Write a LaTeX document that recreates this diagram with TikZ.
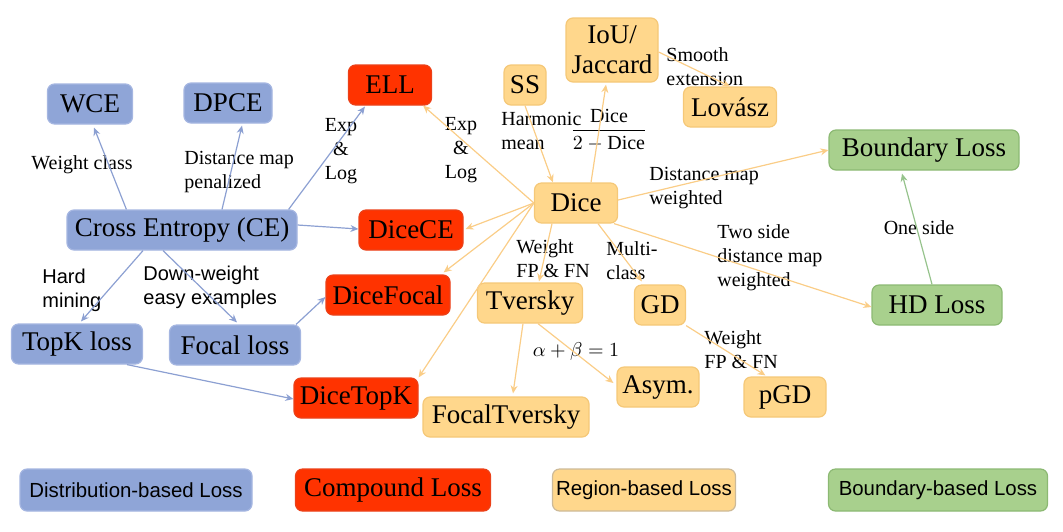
\documentclass[tikz,border=0pt]{standalone}
\usepackage{fontspec}
\setmainfont{Liberation Serif}
\setsansfont{Liberation Sans}
\usepackage{amsmath}
\usepackage{tikz}
\usetikzlibrary{positioning,arrows.meta}

\definecolor{distfill}{RGB}{143,165,215}
\definecolor{distline}{RGB}{165,182,225}
\definecolor{distarr}{RGB}{140,160,210}
\definecolor{compfill}{RGB}{255,51,0}
\definecolor{compline}{RGB}{235,65,25}
\definecolor{regfill}{RGB}{255,215,140}
\definecolor{regline}{RGB}{245,200,120}
\definecolor{regarr}{RGB}{250,205,135}
\definecolor{bndfill}{RGB}{168,208,141}
\definecolor{bndline}{RGB}{140,185,115}
\definecolor{bndarr}{RGB}{150,195,140}

\begin{document}
\begin{tikzpicture}[x=0.5pt,y=-0.5pt,
    box/.style={rounded corners=3.5pt, inner sep=1pt, minimum height=20pt,
        line width=0.6pt, font=\fontsize{13.5}{15}\selectfont},
    dist/.style={box, fill=distfill, draw=distline},
    comp/.style={box, fill=compfill, draw=compline},
    region/.style={box, fill=regfill, draw=regline},
    bnd/.style={box, fill=bndfill, draw=bndline},
    lbl/.style={inner sep=0pt, align=left, font=\fontsize{10}{12}\selectfont},
    sflbl/.style={inner sep=0pt, align=left, font=\sffamily\fontsize{10}{12}\selectfont},
    distarrow/.style={-{Stealth[length=4pt,width=3.5pt]}, draw=distarr, line width=0.6pt},
    regarrow/.style={-{Stealth[length=4pt,width=3.5pt]}, draw=regarr, line width=0.6pt},
    bndarrow/.style={-{Stealth[length=4pt,width=3.5pt]}, draw=bndarr, line width=0.6pt}]
\useasboundingbox (0,0) rectangle (1063,531);

% Distribution-based
\node[dist, minimum width=42.5pt] (wce) at (90,104) {WCE};
\node[dist, minimum width=44pt] (dpce) at (228,103) {DPCE};
\node[dist, minimum width=115pt] (ce) at (182,230) {Cross Entropy (CE)};
\node[dist, minimum width=65.5pt] (topk) at (77,344) {TopK loss};
\node[dist, minimum width=65.5pt] (focal) at (235,345) {Focal loss};

% Compound
\node[comp, minimum width=41.5pt] (ell) at (390,85) {ELL};
\node[comp, minimum width=52pt] (dicece) at (411,230) {DiceCE};
\node[comp, minimum width=62pt] (dicefocal) at (388,295) {DiceFocal};
\node[comp, minimum width=62pt] (dicetopk) at (356,398) {DiceTopK};

% Region-based
\node[region, minimum width=21pt] (ss) at (525,85) {SS};
\node[region, minimum width=46pt, minimum height=32pt, align=center] (iou) at (612,50) {IoU/\\Jaccard};
\node[region, minimum width=46.5pt] (lovasz) at (730,107) {Lovász};
\node[region, minimum width=41.5pt] (dice) at (576,203) {Dice};
\node[region, minimum width=52.5pt] (tversky) at (530,303) {Tversky};
\node[region, minimum width=83pt] (focaltversky) at (506,417) {FocalTversky};
\node[region, minimum width=25.5pt] (gd) at (660,305) {GD};
\node[region, minimum width=41pt] (asym) at (658,387) {Asym.};
\node[region, minimum width=41pt] (pgd) at (785,397) {pGD};

% Boundary-based
\node[bnd, minimum width=95pt] (boundary) at (924,150) {Boundary Loss};
\node[bnd, minimum width=65pt] (hd) at (937,305) {HD Loss};

% Edge labels
\node[lbl, anchor=center] (lwce) at (82,165) {Weight class};
\node[lbl, anchor=west] (ldpce) at (184,172) {Distance map\\penalized};
\node[lbl, align=center] (lell1) at (341,151) {Exp\\\&\\Log};
\node[lbl, align=center] (lell2) at (461,150) {Exp\\\&\\Log};
\node[sflbl, anchor=west] (ltopk) at (42,290) {Hard\\mining};
\node[sflbl, anchor=west] (lfocal) at (143,287) {Down-weight\\easy examples};
\node[lbl, anchor=west] (lss) at (501,131) {Harmonic\\mean};
\node[lbl] (liou) at (609,130) {$\displaystyle\frac{\text{Dice}}{2-\text{Dice}}$};
\node[lbl, anchor=west] (llovasz) at (666,67) {Smooth\\extension};
\node[lbl, anchor=west] (lbnd) at (649,188) {Distance map\\weighted};
\node[lbl, anchor=west] (lhd) at (717,258) {Two side\\distance map\\weighted};
\node[lbl, anchor=west] (ltversky) at (516,259) {Weight\\FP \& FN};
\node[lbl, anchor=west] (lgd) at (606,261) {Multi-\\class};
\node[lbl] (lasym) at (576,351) {$\alpha+\beta=1$};
\node[lbl, anchor=west] (lpgd) at (704,350) {Weight\\FP \& FN};
\node[lbl] (lone) at (919,228) {One side};

% CE arrows
\draw[distarrow] ([shift={(60,0)}]ce.north west) -- ([shift={(4,3)}]wce.south);
\draw[distarrow] ([shift={(40,0)}]ce.north) -- ([shift={(14,2)}]dpce.south);
\draw[distarrow] ([shift={(-9,0)}]ce.north east) -- ([shift={(17,1)}]ell.south west);
\draw[distarrow] ([shift={(0,-5)}]ce.east) -- ([shift={(0,-1)}]dicece.west);
\draw[distarrow] ([shift={(-39,0)}]ce.south) -- ([shift={(4,-2)}]topk.north);
\draw[distarrow] ([shift={(-19,0)}]ce.south) -- ([shift={(2,-2)}]focal.north);
\draw[distarrow] ([shift={(-5,0)}]focal.north east) -- ([shift={(0,2)}]dicefocal.west);
\draw[distarrow] ([shift={(50,0)}]topk.south) -- ([shift={(0,1)}]dicetopk.west);

% Dice arrows
\draw[regarrow] (dice.west) -- ([shift={(-9,0)}]ell.south east);
\draw[regarrow] (dice.west) -- ([shift={(2,-1)}]dicece.east);
\draw[regarrow] (dice.west) -- ([shift={(-7,-2)}]dicefocal.north east);
\draw[regarrow] (dice.west) -- (dicetopk.north east);
\draw[regarrow] (ss.south) -- ([shift={(19,0)}]dice.north west);
\draw[regarrow] ([shift={(15,0)}]dice.north) -- ([shift={(-6,2)}]iou.south);
\draw[regarrow] ([shift={(0,2)}]iou.east) -- (lovasz.north);
\draw[regarrow] ([shift={(0,-3)}]dice.east) -- (boundary.west);
\draw[regarrow] ([shift={(-4,0)}]dice.south east) -- ([shift={(0,2)}]hd.west);
\draw[regarrow] ([shift={(-24,0)}]dice.south) -- ([shift={(9,-1)}]tversky.north);
\draw[regarrow] ([shift={(22,0)}]dice.south) -- ([shift={(8,-3)}]gd.north west);
\draw[regarrow] ([shift={(-7,0)}]tversky.south) -- ([shift={(7,-3)}]focaltversky.north);
\draw[regarrow] ([shift={(8,0)}]tversky.south) -- ([shift={(-3,-4)}]asym.west);
\draw[regarrow] (gd.south east) -- ([shift={(22,-1)}]pgd.north west);

% Boundary arrow
\draw[bndarrow] ([shift={(-5,0)}]hd.north) -- ([shift={(-22,3)}]boundary.south);

% Legend
\node[dist, minimum width=116pt, minimum height=21pt, font=\sffamily\fontsize{10.2}{12}\selectfont] (legdist) at (136,490) {Distribution-based Loss};
\node[comp, minimum width=97.5pt, minimum height=21pt] (legcomp) at (393,490) {Compound Loss};
\node[region, minimum width=91.5pt, minimum height=21pt, draw=regline!70!black!60, font=\sffamily\fontsize{10.2}{12}\selectfont] (legreg) at (644,490) {Region-based Loss};
\node[bnd, minimum width=109.5pt, minimum height=21pt, font=\sffamily\fontsize{10.2}{12}\selectfont] (legbnd) at (938,490) {Boundary-based Loss};
\end{tikzpicture}
\end{document}
